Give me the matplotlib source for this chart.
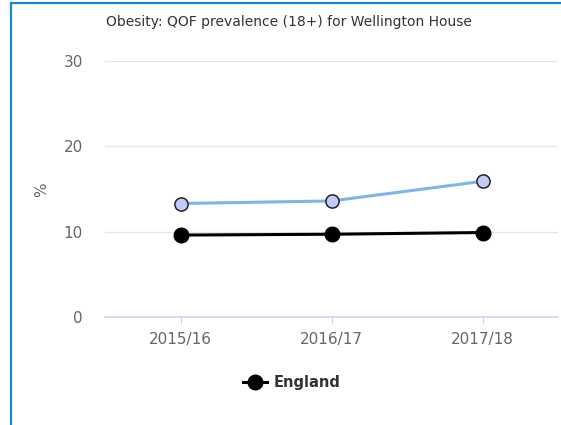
import matplotlib
matplotlib.use("Agg")
import matplotlib.pyplot as plt
from matplotlib.lines import Line2D

plt.rcParams["font.family"] = ["DejaVu Sans"]

categories = ["2015/16", "2016/17", "2017/18"]
practice = [13.3, 13.6, 15.9]
england = [9.6, 9.7, 9.9]
title = "Obesity: QOF prevalence (18+) for Wellington House"
yticks = [0, 10, 20, 30]

W, H = 561, 425
fig = plt.figure(figsize=(W / 100, H / 100), dpi=100)
fig.patch.set_facecolor("white")

# border (left and top)
fig.add_artist(Line2D([10.5 / W, 10.5 / W], [0, 1 - 3 / H], transform=fig.transFigure,
                      color="#1a86c8", lw=1.6))
fig.add_artist(Line2D([10.5 / W, 1], [1 - 3 / H, 1 - 3 / H], transform=fig.transFigure,
                      color="#1a86c8", lw=1.6))

left, right = 105 / W, 558 / W
top, bottom = 1 - 61 / H, 1 - 317 / H
ax = fig.add_axes([left, bottom, right - left, top - bottom])
x = list(range(len(categories)))

ax.plot(x, practice, color="#7cb5ec", lw=2.2, marker="o", ms=9.5,
        markerfacecolor="#c3cbf7", markeredgecolor="#222222", markeredgewidth=1.1, zorder=3)
ax.plot(x, england, color="black", lw=2.2, marker="o", ms=10.5,
        markerfacecolor="black", markeredgecolor="black", zorder=4)

ax.set_xlim(-0.5, len(categories) - 0.5)
ax.set_ylim(0, 30)
ax.set_yticks(yticks)
ax.set_xticks(x)
ax.set_xticklabels(categories)
ax.grid(axis="y", color="#e6e6e6", lw=1)
ax.set_axisbelow(True)
for s in ["top", "right", "left"]:
    ax.spines[s].set_visible(False)
ax.spines["bottom"].set_color("#ccd6eb")
ax.spines["bottom"].set_linewidth(1.2)
ax.tick_params(axis="y", length=0, pad=16, labelsize=11, labelcolor="#666666")
ax.tick_params(axis="x", length=5, color="#ccd6eb", pad=6, labelsize=11, labelcolor="#666666")
ax.set_ylabel("%", color="#666666", fontsize=11)
ax.yaxis.set_label_coords((49 - 105) / 453, (317 - 190) / 256)

fig.text(289 / W, 1 - 22 / H, title, ha="center", va="center", fontsize=10, color="#333333")

h = Line2D([], [], color="black", lw=2.2, marker="o", ms=10.5, markerfacecolor="black")
leg = fig.legend([h], ["England"], loc="center", bbox_to_anchor=(292 / W, 1 - 383 / H),
                 frameon=False, handlelength=1.6, handletextpad=0.5,
                 prop={"weight": "bold", "size": 10.5})
for t in leg.get_texts():
    t.set_color("#333333")

fig.savefig("out.png", dpi=100, facecolor="white")
